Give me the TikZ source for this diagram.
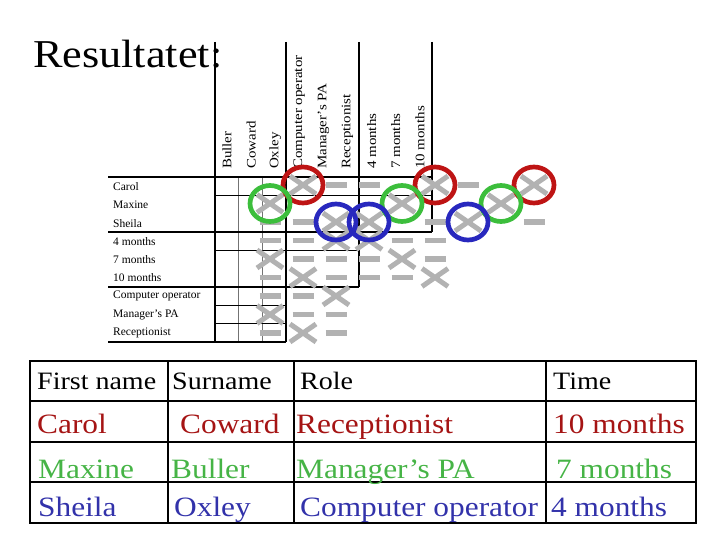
\documentclass[tikz,border=0pt]{standalone}
\usepackage{fontspec}
\setmainfont{Liberation Serif}
\newfontfamily\wideserif[FakeStretch=1.12]{Liberation Serif}
\newfontfamily\longserif[FakeStretch=1.15]{Liberation Serif}
\usetikzlibrary{calc}

\definecolor{ringred}{RGB}{190,20,20}
\definecolor{ringgreen}{RGB}{60,190,60}
\definecolor{ringblue}{RGB}{40,40,190}
\definecolor{txtred}{RGB}{165,20,20}
\definecolor{txtgreen}{RGB}{70,180,70}
\definecolor{txtblue}{RGB}{50,50,170}

\begin{document}
\begin{tikzpicture}[x=1pt,y=-1pt,
  gridline/.style={line width=1.3pt},
  thickgrid/.style={line width=2.4pt},
  thingrid/.style={line width=0.8pt,black!55},
  xmark/.style={line width=5pt,black!30},
  dmark/.style={line width=5.5pt,black!30},
  ring/.style={line width=4.7pt},
  toplabel/.style={rotate=90,anchor=west,inner sep=0pt,font=\longserif\fontsize{13}{13}\selectfont},
  sidelabel/.style={anchor=west,inner sep=0pt,font=\fontsize{11.5}{12}\selectfont},
  cell/.style={anchor=base west,inner sep=0pt,font=\wideserif\fontsize{28}{30}\selectfont},
  headcell/.style={cell,font=\wideserif\fontsize{25}{28}\selectfont}]

  \useasboundingbox (0,0) rectangle (720,540);

  \node[anchor=base west,inner sep=0pt,font=\wideserif\fontsize{39.5}{42}\selectfont] (title) at (33,68) {Resultatet:};

  % the puzzle grid
  \draw[gridline] (215,42) -- (215,342);
  \draw[thingrid] (238,177) -- (238,342) (262,177) -- (262,342);
  \draw[gridline] (286,42) -- (286,342);
  \draw[gridline] (359,42) -- (359,287);
  \draw[thickgrid] (432,42) -- (432,232);
  \draw[gridline] (108,177) -- (432,177);
  \draw[gridline,line width=0.9pt] (215,195) -- (432,195);
  \draw[thickgrid] (108,232) -- (432,232);
  \draw[gridline,line width=0.9pt] (215,250) -- (359,250);
  \draw[thickgrid] (108,287) -- (359,287);
  \draw[gridline,line width=0.9pt] (215,305) -- (286,305) (215,323) -- (286,323);
  \draw[thickgrid] (108,342) -- (286,342);

  \foreach \t [count=\i] in {Buller,Coward,Oxley,Computer operator,Manager’s PA,Receptionist,4 months,7 months,10 months}
    \node[toplabel] (top\i) at ({227+24.1*(\i-1)},169) {\t};

  \foreach \t [count=\i] in {Carol,Maxine,Sheila,4 months,7 months,10 months,Computer operator,Manager’s PA,Receptionist}
    \node[sidelabel] (side\i) at (113,{186.5+18.3*(\i-1)}) {\t};

  % crosses and dashes
  \foreach \c/\r in {2/1,6/1,9/1,1/2,5/2,8/2,3/3,4/3,7/3,3/4,4/4,1/5,5/5,2/6,6/6,3/7,1/8,2/9}
    \draw[xmark,shift={({270+33*(\c-1)},{185+18.5*(\r-1)})}] (-13,-9) -- (13,9) (-13,9) -- (13,-9);
  \foreach \c/\r in {3/1,4/1,7/1,1/3,2/3,6/3,9/3,1/4,2/4,5/4,6/4,2/5,3/5,4/5,6/5,1/6,3/6,4/6,5/6,1/7,2/7,2/8,3/8,1/9,3/9}
    \draw[dmark,shift={({270+33*(\c-1)},{185+18.5*(\r-1)})}] (-10.5,0) -- (10.5,0);

  \foreach \c/\r/\col in {2/1/ringred,6/1/ringred,9/1/ringred,1/2/ringgreen,5/2/ringgreen,8/2/ringgreen,3/3/ringblue,4/3/ringblue,7/3/ringblue}
    \draw[ring,\col] ({270+33*(\c-1)},{185+18.5*(\r-1)}) ellipse [x radius=20pt,y radius=18pt];

  % answer table
  \draw[line width=2.6pt] (30,361) rectangle (696,523);
  \draw[line width=2.4pt] (168,361) -- (168,523) (294,361) -- (294,523) (546,361) -- (546,523);
  \draw[line width=2.4pt] (30,401) -- (696,401) (30,442) -- (696,442) (30,482) -- (696,482);

  \node[headcell] (hfirst) at (37,389) {First name};
  \node[headcell] (hsur) at (172,389) {Surname};
  \node[headcell] (hrole) at (300,389) {Role};
  \node[headcell] (htime) at (553,389) {Time};

  \node[cell,txtred] (carol) at (37,433) {Carol};
  \node[cell,txtred] (coward) at (180,433) {Coward};
  \node[cell,txtred] (recep) at (296,433) {Receptionist};
  \node[cell,txtred] (ten) at (553,433) {10 months};

  \node[cell,txtgreen] (maxine) at (38,478) {Maxine};
  \node[cell,txtgreen] (buller) at (171,478) {Buller};
  \node[cell,txtgreen] (mpa) at (296,478) {Manager’s PA};
  \node[cell,txtgreen] (seven) at (556,478) {7 months};

  \node[cell,txtblue] (sheila) at (38,516) {Sheila};
  \node[cell,txtblue] (oxley) at (174,516) {Oxley};
  \node[cell,txtblue] (comp) at (300,516) {Computer operator};
  \node[cell,txtblue] (four) at (551,516) {4 months};

\end{tikzpicture}
\end{document}
